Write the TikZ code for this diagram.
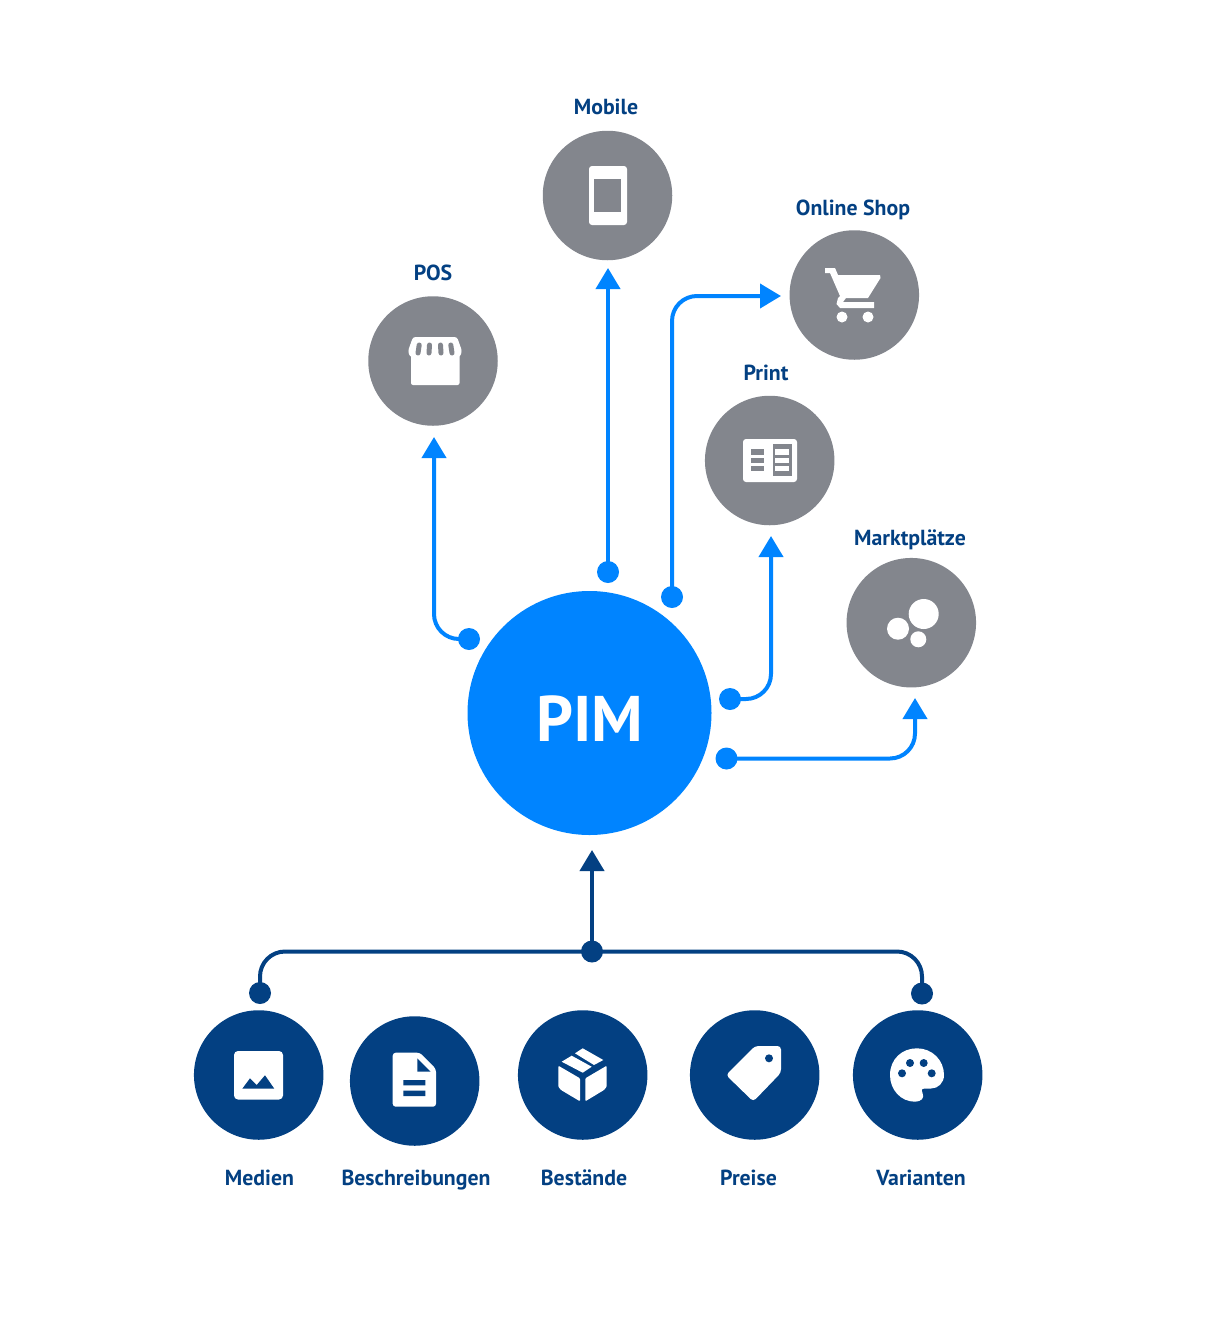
\documentclass[tikz,border=0pt]{standalone}
\usepackage{fontspec}
\setmainfont{PT Sans}
\usetikzlibrary{arrows.meta}
\definecolor{cgray}{HTML}{83868D}
\definecolor{cblue}{HTML}{0084FF}
\definecolor{cdark}{HTML}{034082}
\tikzset{
  disc/.style={circle,draw=none,fill=cgray,minimum size=129.5pt,inner sep=0pt},
  darkdisc/.style={disc,fill=cdark},
  bluedot/.style={circle,draw=none,fill=cblue,minimum size=22pt,inner sep=0pt},
  darkdot/.style={bluedot,fill=cdark},
  lab/.style={anchor=base,inner sep=0pt,text=cdark,font=\fontsize{21.8}{25}\selectfont\bfseries},
  conn/.style={draw=cblue,line width=4pt,rounded corners=25pt,-{Triangle[width=24pt,length=21pt]}},
  darkconn/.style={conn,draw=cdark},
  wire/.style={draw=cdark,line width=4pt,rounded corners=25pt},
}
\begin{document}
\begin{tikzpicture}[x=1pt,y=-1pt]
\useasboundingbox (0,0) rectangle (1220,1320);
% discs
\node[disc,fill=cblue,minimum size=244pt] (pim) at (589.5,713) {};
\node[anchor=base,inner sep=0pt,text=white,font=\fontsize{64.5}{70}\selectfont\bfseries] (pimt) at (590,741) {PIM};
\node[disc] (mob) at (607.5,195.5) {};
\node[disc] (pos) at (433,361) {};
\node[disc] (shop) at (854.3,295) {};
\node[disc] (prt) at (769.7,460.5) {};
\node[disc] (mkt) at (911.3,622.7) {};
\node[darkdisc] (med) at (258.7,1075) {};
\node[darkdisc] (bes) at (414.7,1081) {};
\node[darkdisc] (bst) at (582.7,1075) {};
\node[darkdisc] (pre) at (754.7,1075) {};
\node[darkdisc] (var) at (917.7,1075) {};
% labels
\node[lab] (lmob) at (606,114) {Mobile};
\node[lab] (lpos) at (433,280) {POS};
\node[lab] (lshop) at (853,215) {Online Shop};
\node[lab] (lprt) at (766,380) {Print};
\node[lab] (lmkt) at (910,545) {Marktplätze};
\node[lab] (lmed) at (259.5,1185) {Medien};
\node[lab] (lbes) at (416,1185) {Beschreibungen};
\node[lab] (lbst) at (584,1185) {Bestände};
\node[lab] (lpre) at (748.5,1185) {Preise};
\node[lab] (lvar) at (921,1185) {Varianten};
% dots and arrow ends
\node[bluedot] (dpos) at (469,639) {};
\node[bluedot] (dmob) at (608,572) {};
\node[bluedot] (dshop) at (672,597) {};
\node[bluedot] (dprt) at (730,699) {};
\node[bluedot] (dmkt) at (726.5,758.5) {};
\node[darkdot] (dhub) at (592,951.5) {};
\node[darkdot] (dmed) at (260,993) {};
\node[darkdot] (dvar) at (922,993.5) {};
\coordinate (tpos) at (434,437);
\coordinate (tmob) at (608,268);
\coordinate (tshop) at (781,296);
\coordinate (tprt) at (771,536);
\coordinate (tmkt) at (915,698);
\coordinate (tpim) at (592,850);
% connectors
\draw[conn] (dpos.center) -| (tpos);
\draw[conn] (dmob.center) -- (tmob);
\draw[conn] (dshop.center) |- (tshop);
\draw[conn] (dprt.center) -| (tprt);
\draw[conn] (dmkt.center) -| (tmkt);
\draw[darkconn] (dhub.center) -- (tpim);
\draw[wire] (dmed.center) |- (dhub.center);
\draw[wire] (dhub.center) -| (dvar.center);
% phone
\fill[white,rounded corners=3pt] (589,166) rectangle (627,225);
\fill[cgray] (594,179) rectangle (621,212);
% store
\fill[white,rounded corners=2pt] (411,350) rectangle (459.5,385);
\fill[white,rounded corners=2.5pt] (413,337) -- (457,337) -- (462,351) -- (460,357) -- (410,357) -- (408,351) -- cycle;
\foreach \x/\d in {418/1.2,429/0.5,441/-0.5,452/-1.2}
  \draw[cgray,line width=5pt,line cap=round] (\x+\d,345) -- (\x,353);
% cart
\fill[white] (825,268) -- (835,268) -- (838,275) -- (880,275) -- (880.5,278) -- (868,298) -- (846,298) -- (843,302) -- (874,302) -- (874,308) -- (840,308) -- (836.5,304) -- (838,298) -- (840,296) -- (830,273) -- (825,273) -- cycle;
\fill[white] (842,317) circle (5.5) (868,317) circle (5.5);
% print
\fill[white,rounded corners=3pt] (743,439) rectangle (797,482);
\fill[cgray] (773,444) rectangle (792,476);
\foreach \a/\b in {449/455,458/463,466/471}{
  \fill[cgray] (751,\a) rectangle (764,\b);
  \fill[white] (775,\a) rectangle (789,\b);
}
% markets
\fill[white] (923.7,614) circle (15) (898,628.7) circle (11) (918.3,639.3) circle (8);
% image
\fill[white,rounded corners=4pt] (234,1051) rectangle (283,1099.5);
\fill[cdark] (242.3,1088.7) -- (250,1078.3) -- (256.7,1085) -- (265,1075.3) -- (274.3,1088.7) -- cycle;
% document
\fill[white,rounded corners=3pt] (392.7,1052.7) -- (420,1052.7) -- (436,1069) -- (436,1106.7) -- (392.7,1106.7) -- cycle;
\fill[cdark] (417.3,1058.3) -- (417.3,1071.7) -- (430.7,1071.7) -- cycle;
\fill[cdark] (403.3,1080) rectangle (425.3,1085.3) (403.3,1090.7) rectangle (425.3,1096);
% box
\fill[white,rounded corners=1pt] (558.3,1065.7) -- (580,1078.3) -- (580,1101.3) -- (561,1090) -- (558.3,1086.7) -- cycle;
\fill[white,rounded corners=1pt] (585.3,1078.3) -- (606.7,1065.7) -- (606.7,1086.7) -- (604,1090) -- (585.3,1101.3) -- cycle;
\fill[white] (561.7,1061.7) -- (571.7,1055.7) -- (591.7,1066.7) -- (582.7,1072.7) -- cycle;
\fill[white] (575,1053.3) -- (582.7,1048.3) -- (603.3,1060) -- (594,1065) -- cycle;
% tag
\fill[white,rounded corners=3.5pt] (755,1046) -- (781,1046) -- (781,1072.7) -- (753.3,1101.5) -- (726,1075) -- cycle;
\fill[cdark] (769,1058.3) circle (4);
% palette
\fill[white] (890,1075) .. controls (890,1059) and (902,1048.3) .. (917,1048.3) .. controls (932,1048.3) and (944,1060) .. (944,1075) .. controls (944,1083) and (938,1088.5) .. (931,1088.5) -- (925,1088.5) .. controls (921,1088.5) and (921,1091) .. (922.5,1093) .. controls (925,1098) and (921,1101.7) .. (915,1101.7) .. controls (901,1101.7) and (890,1090) .. (890,1075) -- cycle;
\fill[cdark] (902,1073.3) circle (4) (910,1063) circle (4) (923.7,1063) circle (4) (931.7,1073.3) circle (4);
\end{tikzpicture}
\end{document}
